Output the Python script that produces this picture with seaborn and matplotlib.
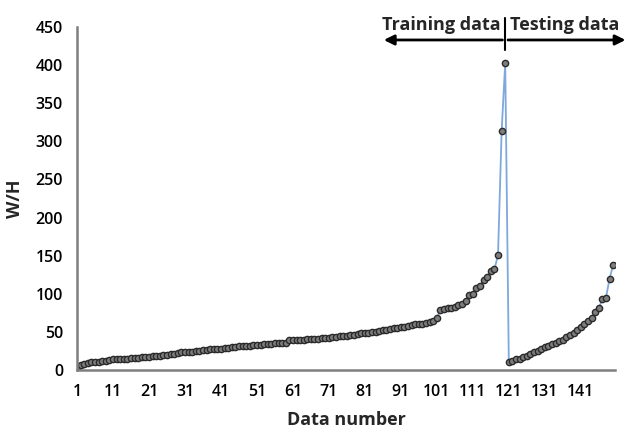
import matplotlib
matplotlib.use("Agg")
import matplotlib.pyplot as plt
import seaborn as sns
import pandas as pd

# ---- data ----
training_values = [
    2, 6, 8, 9, 10, 11, 11, 12, 12, 13,
    14, 14, 15, 15, 15, 16, 16, 16, 17, 17,
    17, 18, 18, 19, 20, 20, 21, 21, 22, 23,
    23, 24, 24, 25, 25, 26, 26, 27, 27, 28,
    28, 29, 29, 30, 30, 31, 31, 32, 32, 33,
    33, 33, 34, 34, 34, 35, 35, 35, 36, 39,
    40, 40, 40, 40, 41, 41, 41, 41, 42, 42,
    42, 43, 43, 44, 45, 45, 46, 46, 47, 48,
    48, 49, 50, 50, 51, 52, 53, 54, 55, 55,
    56, 57, 58, 59, 60, 61, 61, 62, 63, 64,
    68, 79, 80, 81, 82, 83, 85, 87, 90, 98,
    100, 107, 110, 118, 122, 130, 132, 151, 313, 403,
]
testing_values = [
    11, 12, 14, 15, 17, 19, 21, 23, 25, 28,
    30, 32, 34, 36, 38, 40, 43, 46, 49, 53,
    56, 60, 64, 68, 76, 81, 93, 95, 120, 138,
]
wh_values = training_values + testing_values
data_number = list(range(1, len(wh_values) + 1))
x_tick_labels = list(range(1, 142, 10))
y_ticks = list(range(0, 451, 50))

df = pd.DataFrame({"Data number": data_number, "W/H": wh_values})

sns.set_style("white")
plt.rcParams["font.family"] = ["Open Sans", "DejaVu Sans"]

fig = plt.figure(figsize=(6.29, 4.33), dpi=100)
ax = fig.add_axes([0.1224, 0.1455, 0.8553, 0.7921])

sns.lineplot(
    data=df, x="Data number", y="W/H", ax=ax,
    color="#7fa8dc", linewidth=1.3,
    marker="o", markersize=4.5,
    markerfacecolor="#7d7d7d", markeredgecolor="#2a2a2a", markeredgewidth=1.0,
)

ax.set_xlim(1, 150.5)
ax.set_ylim(0, 450)
ax.set_xticks(x_tick_labels)
ax.set_xticklabels([str(v) for v in x_tick_labels])
ax.set_yticks(y_ticks)
ax.tick_params(axis="both", length=0, labelsize=11.5, colors="black")
ax.tick_params(axis="y", pad=10)
ax.tick_params(axis="x", pad=10)
for lab in ax.get_xticklabels() + ax.get_yticklabels():
    lab.set_fontweight("semibold")

for side in ["top", "right"]:
    ax.spines[side].set_visible(False)
for side in ["left", "bottom"]:
    ax.spines[side].set_color("#7f7f7f")
    ax.spines[side].set_linewidth(1.8)

ax.set_xlabel("Data number", fontsize=13, fontweight="bold", labelpad=8)
ax.set_ylabel("W/H", fontsize=13, fontweight="bold", labelpad=8)

# annotation: training/testing arrows
ax.annotate("", xy=(85.5, 433), xytext=(120, 433), xycoords="data",
            arrowprops=dict(arrowstyle="-|>", color="black", lw=2, mutation_scale=15),
            annotation_clip=False)
ax.annotate("", xy=(154.2, 433), xytext=(120, 433), xycoords="data",
            arrowprops=dict(arrowstyle="-|>", color="black", lw=2, mutation_scale=15),
            annotation_clip=False)
ax.plot([120, 120], [420, 462], color="black", lw=1.5, clip_on=False)
ax.text(118.8, 441, "Training data", ha="right", va="bottom", fontsize=13,
        fontweight="bold")
ax.text(121.3, 441, "Testing data", ha="left", va="bottom", fontsize=13,
        fontweight="bold")

fig.savefig("out.png", dpi=100)
